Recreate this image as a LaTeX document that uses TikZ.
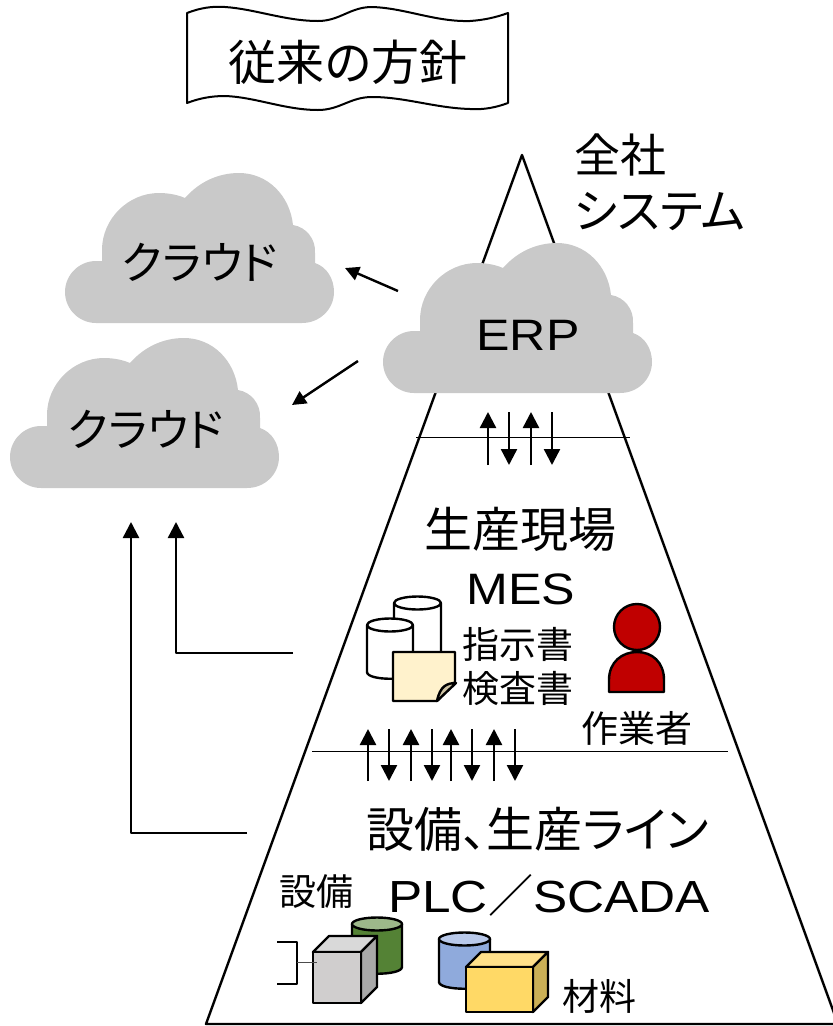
\documentclass[tikz,border=0pt]{standalone}
\usepackage{fontspec}
\setmainfont[RawFeature=+palt]{Noto Sans CJK JP}
\newfontfamily\latinfont[FakeStretch=1.14]{Liberation Sans}
\usetikzlibrary{arrows.meta}
\definecolor{cloudgray}{HTML}{C9C9C9}
\definecolor{personred}{HTML}{C00000}
\definecolor{notecream}{HTML}{FFF2CC}
\definecolor{notefold}{HTML}{CFC4A4}
\definecolor{greenbody}{HTML}{548235}
\definecolor{greentop}{HTML}{9DB88A}
\definecolor{bluebody}{HTML}{8FAADC}
\definecolor{bluetop}{HTML}{B9C9EA}
\definecolor{cubefront}{HTML}{D0CECE}
\definecolor{cubetop}{HTML}{D9D9D9}
\definecolor{cubeside}{HTML}{A8A8A8}
\definecolor{boxfront}{HTML}{FFD966}
\definecolor{boxtop}{HTML}{FFE08A}
\definecolor{boxside}{HTML}{CBB056}
\newcommand{\bigtext}{\fontsize{48}{52}\selectfont}
\newcommand{\midtext}{\fontsize{37}{40}\selectfont}
\newcommand{\latintext}{\latinfont\fontsize{44}{46}\selectfont}
% center x, top y, half width, height, body, lid
\newcommand{\drawcyl}[6]{
  \begin{scope}[shift={(#1,#2)}]
  \draw[pen, fill=#5] (-#3,0) -- (-#3,#4) .. controls (-#3,#4+9) and (#3,#4+9) .. (#3,#4)
    -- (#3,0) -- cycle;
  \draw[pen, fill=#6] (0,0) ellipse [x radius=#3, y radius=6.5];
  \end{scope}
}
\tikzset{
  cloud/.pic={
    \fill[cloudgray] (31,150) .. controls (14,150) and (0,136) .. (0,119)
      .. controls (0,102) and (14,88) .. (31,88) -- (37,88) -- (37,77)
      .. controls (37,46) and (63,20) .. (94,20)
      .. controls (104,20) and (113,22) .. (120,25)
      .. controls (134,9) and (153,0) .. (174,0)
      .. controls (203,0) and (225,23) .. (228,52)
      .. controls (241,54) and (251,66) .. (250,80) -- (250,90)
      .. controls (262,94) and (269,106) .. (269,119)
      .. controls (269,136) and (255,150) .. (237,150) -- cycle;
  }
}
\begin{document}
\begin{tikzpicture}[x=1pt, y=-1pt, line join=round,
  pen/.style={line width=2.4pt},
  thin line/.style={line width=1pt},
  arrow/.style={line width=2.4pt, -{Triangle[width=16pt,length=16pt]}},
  small arrow/.style={line width=2.4pt, -{Triangle[width=14pt,length=14pt]}},
  label text/.style={inner sep=0pt, anchor=center}]
\useasboundingbox (0,0) rectangle (833,1026);
\coordinate (apex) at (522,155);
\coordinate (baseL) at (206,1024);
\coordinate (baseR) at (838,1024);
\draw[pen] (apex)--(baseL)--(baseR)--cycle;
\coordinate (upL) at (416,437);
\coordinate (upR) at (630,437);
\coordinate (lowL) at (312,751);
\coordinate (lowR) at (728,751);
\draw[thin line] (upL)--(upR) (lowL)--(lowR);
% banner
\draw[pen, line width=2pt, fill=white] (187,13) .. controls (200,8) and (212,6) .. (225,7)
  .. controls (255,9) and (285,21) .. (318,21) .. controls (340,21) and (350,7) .. (372,7)
  .. controls (405,8) and (435,22) .. (470,21) .. controls (485,20) and (497,17) .. (508,13)
  -- (508,103) .. controls (497,107) and (485,110) .. (470,109)
  .. controls (435,108) and (405,97) .. (372,97) .. controls (350,97) and (340,110) .. (318,110)
  .. controls (285,110) and (255,97) .. (225,96) .. controls (212,96) and (200,98) .. (187,103) -- cycle;
\node[label text] (title) at (348,62) {\bigtext 従来の方針};
\node[label text, anchor=west] (zensha) at (574,155) {\fontsize{46}{50}\selectfont 全社};
\node[label text, anchor=west] (system) at (574,212) {\fontsize{47}{50}\selectfont システム};
% clouds
\pic at (65,173) {cloud};
\pic at (10,338) {cloud};
\pic at (383,243) {cloud};
\node[label text] (cloudA) at (200,262) {\fontsize{45}{48}\selectfont クラウド};
\node[label text] (cloudB) at (146,429) {\fontsize{45}{48}\selectfont クラウド};
\node[label text] (erp) at (528,335) {\latintext ERP};
% arrows to the clouds
\coordinate (erpA) at (398,291);
\coordinate (cldA) at (345,268);
\coordinate (erpB) at (358,361);
\coordinate (cldB) at (292,405);
\draw[small arrow] (erpA)--(cldA);
\draw[small arrow] (erpB)--(cldB);
\coordinate (siteOut) at (293,653);
\coordinate (siteUp) at (176,522);
\coordinate (lineOut) at (247,833);
\coordinate (lineUp) at (131,522);
\draw[arrow] (siteOut)-|(siteUp);
\draw[arrow] (lineOut)-|(lineUp);
% arrows between levels
\coordinate (a1) at (488,465);
\coordinate (b1) at (488,412);
\coordinate (a2) at (509,412);
\coordinate (b2) at (509,465);
\coordinate (a3) at (531,465);
\coordinate (b3) at (531,412);
\coordinate (a4) at (552,412);
\coordinate (b4) at (552,465);
\draw[arrow] (a1)--(b1);
\draw[arrow] (a2)--(b2);
\draw[arrow] (a3)--(b3);
\draw[arrow] (a4)--(b4);
\coordinate (c1) at (368,781);
\coordinate (d1) at (368,729);
\coordinate (c2) at (389,729);
\coordinate (d2) at (389,781);
\coordinate (c3) at (411,781);
\coordinate (d3) at (411,729);
\coordinate (c4) at (432,729);
\coordinate (d4) at (432,781);
\coordinate (c5) at (451,781);
\coordinate (d5) at (451,729);
\coordinate (c6) at (472,729);
\coordinate (d6) at (472,781);
\coordinate (c7) at (494,781);
\coordinate (d7) at (494,729);
\coordinate (c8) at (515,729);
\coordinate (d8) at (515,781);
\draw[arrow] (c1)--(d1);
\draw[arrow] (c2)--(d2);
\draw[arrow] (c3)--(d3);
\draw[arrow] (c4)--(d4);
\draw[arrow] (c5)--(d5);
\draw[arrow] (c6)--(d6);
\draw[arrow] (c7)--(d7);
\draw[arrow] (c8)--(d8);
% middle level
\node[label text] (site) at (520,529) {\bigtext 生産現場};
\node[label text] (mes) at (521,589) {\latintext MES};
\node[label text] (order) at (518,644) {\midtext 指示書};
\node[label text] (check) at (518,688) {\midtext 検査書};
\node[label text] (worker) at (637,728) {\midtext 作業者};
\drawcyl{417.5}{603}{23.5}{60}{white}{white}
\drawcyl{390}{625}{23}{47}{white}{white}
\draw[pen, fill=notecream] (393,652)--(455,652)--(455,682)--(437,701)--(393,701)--cycle;
\draw[pen, fill=notefold] (456,683) .. controls (447,683) and (440,686) .. (437,701) -- cycle;
\coordinate (head) at (637,627);
\draw[pen, fill=personred] (head) circle (23pt);
\draw[pen, fill=personred] (609,692) -- (609,680) .. controls (609,662) and (622,652) .. (637,652)
  .. controls (652,652) and (664,662) .. (664,680) -- (664,692) -- cycle;
% lower level
\node[label text] (line) at (538,829) {\bigtext 設備、生産ライン};
\node[label text] (equip) at (316,892) {\midtext 設備};
\node[label text] (plc) at (549,895) {\latinfont\fontsize{45}{48}\selectfont PLC{\rmfamily\fontsize{45}{48}\selectfont ／}SCADA};
\node[label text] (material) at (599,996) {\midtext 材料};
\drawcyl{377}{924}{25}{43}{greenbody}{greentop}
\coordinate (brA) at (277,942);
\coordinate (brB) at (297,942);
\coordinate (brC) at (297,984);
\coordinate (brD) at (277,984);
\coordinate (brM) at (297,962);
\coordinate (boxM) at (317,962);
\draw[pen] (brA)--(brB)--(brC)--(brD);
\draw[pen, fill=cubetop] (313,952)--(329,936)--(377,936)--(361,952)--cycle;
\draw[pen, fill=cubeside] (361,952)--(377,936)--(377,987)--(361,1003)--cycle;
\draw[pen, fill=cubefront] (313,952) rectangle (361,1003);
\draw[thin line, black!70] (brM)--(boxM);
\drawcyl{464.5}{939}{25.5}{43}{bluebody}{bluetop}
\draw[pen, fill=boxtop] (466,967)--(481,952)--(548,952)--(533,967)--cycle;
\draw[pen, fill=boxside] (533,967)--(548,952)--(548,997)--(533,1012)--cycle;
\draw[pen, fill=boxfront] (466,967) rectangle (533,1012);
\end{tikzpicture}
\end{document}
